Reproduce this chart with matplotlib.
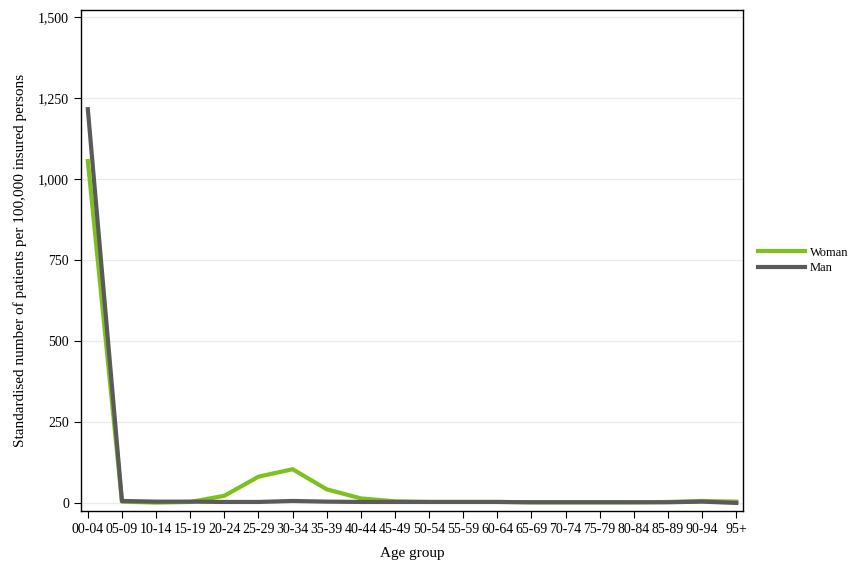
import matplotlib.pyplot as plt
from matplotlib.ticker import FuncFormatter

age_groups = ['00-04', '05-09', '10-14', '15-19', '20-24', '25-29', '30-34',
              '35-39', '40-44', '45-49', '50-54', '55-59', '60-64', '65-69',
              '70-74', '75-79', '80-84', '85-89', '90-94', '95+']
woman = [1055, 4, 1, 3, 22, 81, 104, 42, 14, 5, 3, 3, 3, 2, 2, 2, 2, 3, 6, 4]
man = [1215, 6, 4, 4, 3, 3, 6, 4, 3, 3, 3, 3, 3, 2, 2, 2, 2, 2, 4, 0]

plt.rcParams['font.family'] = ['Liberation Serif', 'DejaVu Serif']

fig = plt.figure(figsize=(8.64, 5.76), dpi=100)
ax = fig.add_axes([0.09375, 0.1128, 0.7663, 0.8698])

x = range(len(age_groups))
ax.plot(x, woman, color='#7dc11e', linewidth=3, label='Woman', zorder=3)
ax.plot(x, man, color='#5a5a5a', linewidth=3, label='Man', zorder=4)

ax.set_xlim(-0.2, 19.2)
ax.set_ylim(-25, 1521)
ax.set_xticks(list(x))
ax.set_xticklabels(age_groups)
ax.set_yticks([0, 250, 500, 750, 1000, 1250, 1500])
ax.yaxis.set_major_formatter(FuncFormatter(lambda v, p: f'{int(v):,}'))
ax.tick_params(labelsize=10, direction='out', length=5, color='black')
ax.grid(axis='y', color='#ebebeb', linewidth=1)
ax.set_axisbelow(True)
for s in ax.spines.values():
    s.set_color('black')
    s.set_linewidth(1)

ax.set_xlabel('Age group', fontsize=11, labelpad=8)
ax.set_ylabel('Standardised number of patients per 100,000 insured persons', fontsize=11, labelpad=8)

ax.legend(loc='center left', bbox_to_anchor=(1.005, 0.5), frameon=False,
          fontsize=9, handlelength=3.8, handletextpad=0.4, labelspacing=0.3)

plt.savefig('out.png', dpi=100)
